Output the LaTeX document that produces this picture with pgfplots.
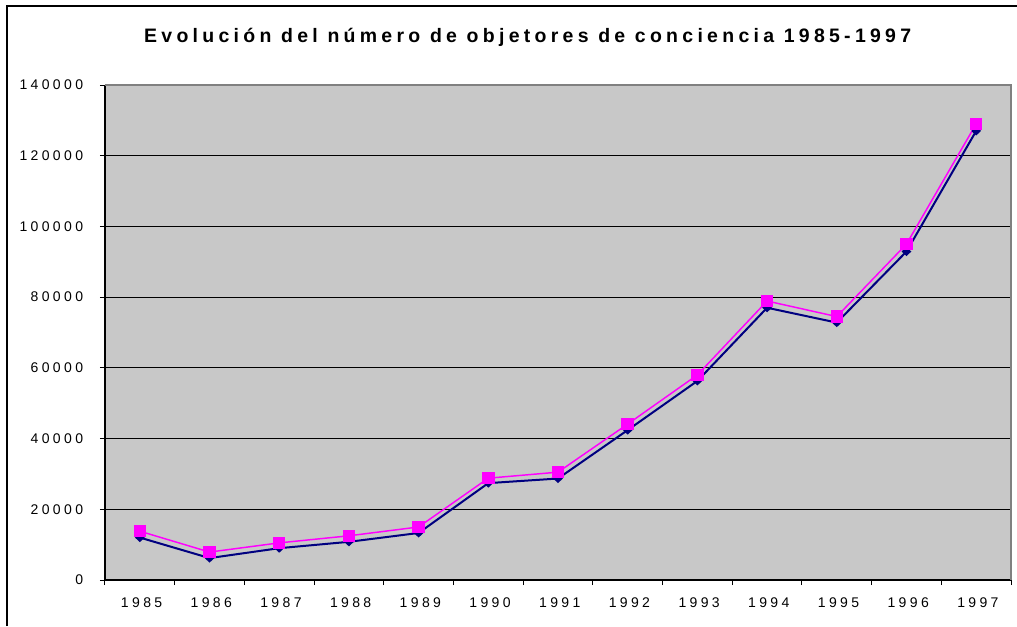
\documentclass[border=0pt]{standalone}
\usepackage{fontspec}
\setmainfont{Liberation Sans}
\usepackage{pgfplots}
\pgfplotsset{compat=1.18}
\newfontfamily\tickfont[LetterSpace=24]{Liberation Sans}
\newfontfamily\titlefont[LetterSpace=22]{Liberation Sans}
\definecolor{plotgray}{RGB}{200,200,200}
\definecolor{navyline}{RGB}{0,0,128}
\definecolor{magline}{RGB}{255,0,255}

\begin{document}
\begin{tikzpicture}
% 1 px of the reference = 0.75pt
\useasboundingbox (-78.75pt,-34.5pt) rectangle (684pt,435pt);
\draw[line width=1.5pt] (-73.5pt,-34.5pt) -- (-73.5pt,430.5pt) -- (684pt,430.5pt);
\node[anchor=base, inner sep=0pt] at (317pt,402.75pt)
    {\titlefont\fontsize{14.6}{17}\selectfont\bfseries Evolución del número de objetores de conciencia 1985-1997};

\begin{axis}[
    at={(0pt,0pt)}, anchor=south west,
    scale only axis,
    width=679.5pt, height=371.25pt,
    xmin=-0.5, xmax=12.5,
    ymin=0, ymax=140000,
    ytick={0,20000,...,140000},
    xtick={0,...,12},
    xticklabels={1985,1986,1987,1988,1989,1990,1991,1992,1993,1994,1995,1996,1997},
    minor xtick={-0.5,0.5,...,12.5},
    major x tick style={draw=none},
    minor tick length=3.75pt,
    major tick length=3.75pt,
    tick align=outside,
    tick style={black, line width=0.75pt},
    axis x line*=bottom, axis y line*=left,
    axis line style={black, line width=0.9pt},
    ymajorgrids=true,
    grid style={black, line width=0.6pt},
    axis background/.style={fill=plotgray},
    scaled y ticks=false,
    /pgf/number format/assume math mode=true,
    yticklabel style={/pgf/number format/fixed, /pgf/number format/1000 sep={},
        font=\tickfont\fontsize{10.5}{12}\selectfont, inner sep=0pt, xshift=-12.5pt},
    xticklabel style={font=\tickfont\fontsize{10.5}{12}\selectfont, inner sep=0pt,
        yshift=-9.5pt, xshift=1.3pt},
    clip=false,
]
\draw[color=gray, line width=1.5pt] (rel axis cs:0,1) -- (rel axis cs:1,1) -- (rel axis cs:1,0);

% serie azul marino
\addplot[color=navyline, line width=1.5pt, mark=diamond*,
    mark size=3.4pt, mark options={yscale=0.7, fill=navyline}] coordinates {
    (0,12000) (1,6200) (2,9000) (3,10800) (4,13300) (5,27400) (6,28700)
    (7,42400) (8,56300) (9,77000) (10,72800) (11,92900) (12,127000)
};

% serie magenta
\addplot[color=magline, line width=1.1pt, mark=square*,
    mark size=4.1pt, mark options={fill=magline}] coordinates {
    (0,13800) (1,7900) (2,10500) (3,12500) (4,15000) (5,28800) (6,30500)
    (7,44100) (8,58000) (9,78900) (10,74500) (11,95000) (12,129000)
};
\end{axis}
\end{tikzpicture}
\end{document}
